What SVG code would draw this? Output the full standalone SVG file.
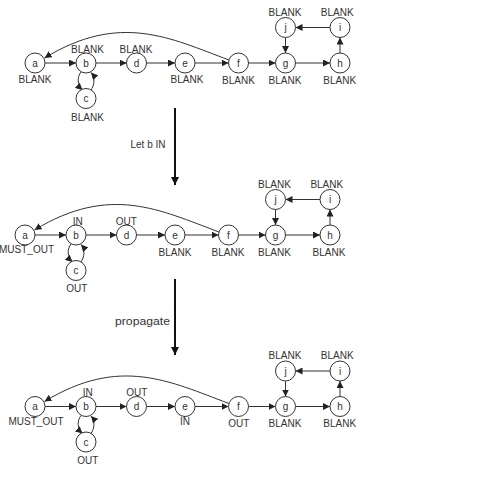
<svg xmlns="http://www.w3.org/2000/svg" width="484" height="490" viewBox="0 0 484 490">
<style>
.n{fill:#fff;stroke:#333;stroke-width:1}
.t{font-family:"Liberation Sans",Arial,sans-serif;font-size:10px;fill:#333;text-anchor:middle}
.e{fill:none;stroke:#333;stroke-width:1}
.big{fill:none;stroke:#111;stroke-width:2}
.cap{font-family:"Liberation Sans",Arial,sans-serif;font-size:10px;fill:#333;text-anchor:end}
</style>
<defs>
<marker id="ah" viewBox="0 0 10 10" refX="10" refY="5" markerWidth="7" markerHeight="7" markerUnits="userSpaceOnUse" orient="auto">
<path d="M0,0 L10,5 L0,10 z" fill="#222"/>
</marker>
<marker id="bh" viewBox="0 0 10 10" refX="10" refY="5" markerWidth="9" markerHeight="8" markerUnits="userSpaceOnUse" orient="auto">
<path d="M0,0 L10,5 L0,10 z" fill="#111"/>
</marker>
</defs>
<rect width="484" height="490" fill="#fff"/>

<!-- Diagram 1 -->
<g id="diagram1">
<g id="d1-edges">
<line class="e" x1="45" y1="63" x2="76" y2="63" marker-end="url(#ah)"/>
<line class="e" x1="96" y1="63" x2="126.5" y2="63" marker-end="url(#ah)"/>
<line class="e" x1="146.5" y1="63" x2="175" y2="63" marker-end="url(#ah)"/>
<line class="e" x1="195" y1="63" x2="228.5" y2="63" marker-end="url(#ah)"/>
<line class="e" x1="248.5" y1="63" x2="275.5" y2="63" marker-end="url(#ah)"/>
<line class="e" x1="295.5" y1="63" x2="330" y2="63" marker-end="url(#ah)"/>
<line class="e" x1="340" y1="53" x2="340" y2="37.5" marker-end="url(#ah)"/>
<line class="e" x1="330" y1="27.5" x2="295.5" y2="27.5" marker-end="url(#ah)"/>
<line class="e" x1="285.5" y1="37.5" x2="285.5" y2="53" marker-end="url(#ah)"/>
<path class="e" d="M81,72 C77,77 77,85 82.5,90" marker-end="url(#ah)"/>
<path class="e" d="M90.5,90.5 C95,85 95,77 91,72.5" marker-end="url(#ah)"/>
<path class="e" d="M229,60 C170,38 120,12 44.5,58" marker-end="url(#ah)"/>
</g>
<g id="d1-a"><circle class="n" cx="35" cy="63" r="10"/><text class="t" x="35" y="66.5">a</text><text class="t" x="35" y="82.5">BLANK</text></g>
<g id="d1-b"><circle class="n" cx="86" cy="63" r="10"/><text class="t" x="86" y="66.5">b</text><text class="t" x="87.5" y="53">BLANK</text></g>
<g id="d1-c"><circle class="n" cx="86" cy="98.5" r="10"/><text class="t" x="86" y="102">c</text><text class="t" x="87.5" y="121">BLANK</text></g>
<g id="d1-d"><circle class="n" cx="136.5" cy="63" r="10"/><text class="t" x="136.5" y="66.5">d</text><text class="t" x="136" y="53">BLANK</text></g>
<g id="d1-e"><circle class="n" cx="185" cy="63" r="10"/><text class="t" x="185" y="66.5">e</text><text class="t" x="187" y="82.5">BLANK</text></g>
<g id="d1-f"><circle class="n" cx="238.5" cy="63" r="10"/><text class="t" x="238.5" y="66.5">f</text><text class="t" x="238.5" y="84">BLANK</text></g>
<g id="d1-g"><circle class="n" cx="285.5" cy="63" r="10"/><text class="t" x="285.5" y="66.5">g</text><text class="t" x="285" y="84">BLANK</text></g>
<g id="d1-h"><circle class="n" cx="340" cy="63" r="10"/><text class="t" x="340" y="66.5">h</text><text class="t" x="339.7" y="84">BLANK</text></g>
<g id="d1-j"><circle class="n" cx="285.5" cy="27.5" r="10"/><text class="t" x="285.5" y="31">j</text><text class="t" x="285" y="16">BLANK</text></g>
<g id="d1-i"><circle class="n" cx="340" cy="27.5" r="10"/><text class="t" x="340" y="31">i</text><text class="t" x="337.2" y="16">BLANK</text></g>
</g>

<!-- Transition arrows -->
<g id="transitions">
<line class="big" x1="175" y1="108" x2="175" y2="185" marker-end="url(#bh)"/>
<text id="label-let-b-in" class="cap" x="165.5" y="147.5">Let b IN</text>
<line class="big" x1="175" y1="279" x2="175" y2="355" marker-end="url(#bh)"/>
<text id="label-propagate" class="cap" x="170" y="324.5" textLength="55" lengthAdjust="spacingAndGlyphs">propagate</text>
</g>

<!-- Diagram 2 -->
<g id="diagram2" transform="translate(-10,172)">
<g id="d2-edges">
<line class="e" x1="45" y1="63" x2="76" y2="63" marker-end="url(#ah)"/>
<line class="e" x1="96" y1="63" x2="126.5" y2="63" marker-end="url(#ah)"/>
<line class="e" x1="146.5" y1="63" x2="175" y2="63" marker-end="url(#ah)"/>
<line class="e" x1="195" y1="63" x2="228.5" y2="63" marker-end="url(#ah)"/>
<line class="e" x1="248.5" y1="63" x2="275.5" y2="63" marker-end="url(#ah)"/>
<line class="e" x1="295.5" y1="63" x2="330" y2="63" marker-end="url(#ah)"/>
<line class="e" x1="340" y1="53" x2="340" y2="37.5" marker-end="url(#ah)"/>
<line class="e" x1="330" y1="27.5" x2="295.5" y2="27.5" marker-end="url(#ah)"/>
<line class="e" x1="285.5" y1="37.5" x2="285.5" y2="53" marker-end="url(#ah)"/>
<path class="e" d="M81,72 C77,77 77,85 82.5,90" marker-end="url(#ah)"/>
<path class="e" d="M90.5,90.5 C95,85 95,77 91,72.5" marker-end="url(#ah)"/>
<path class="e" d="M229,60 C170,38 120,12 44.5,58" marker-end="url(#ah)"/>
</g>
<g id="d2-a"><circle class="n" cx="35" cy="63" r="10"/><text class="t" x="35" y="66.5">a</text><text class="t" x="36.5" y="81">MUST_OUT</text></g>
<g id="d2-b"><circle class="n" cx="86" cy="63" r="10"/><text class="t" x="86" y="66.5">b</text><text class="t" x="87.7" y="52.5">IN</text></g>
<g id="d2-c"><circle class="n" cx="86" cy="98.5" r="10"/><text class="t" x="86" y="102">c</text><text class="t" x="86.7" y="120">OUT</text></g>
<g id="d2-d"><circle class="n" cx="136.5" cy="63" r="10"/><text class="t" x="136.5" y="66.5">d</text><text class="t" x="136.3" y="52.5">OUT</text></g>
<g id="d2-e"><circle class="n" cx="185" cy="63" r="10"/><text class="t" x="185" y="66.5">e</text><text class="t" x="185" y="83.5">BLANK</text></g>
<g id="d2-f"><circle class="n" cx="238.5" cy="63" r="10"/><text class="t" x="238.5" y="66.5">f</text><text class="t" x="238" y="83.5">BLANK</text></g>
<g id="d2-g"><circle class="n" cx="285.5" cy="63" r="10"/><text class="t" x="285.5" y="66.5">g</text><text class="t" x="284.5" y="83.5">BLANK</text></g>
<g id="d2-h"><circle class="n" cx="340" cy="63" r="10"/><text class="t" x="340" y="66.5">h</text><text class="t" x="339" y="83.5">BLANK</text></g>
<g id="d2-j"><circle class="n" cx="285.5" cy="27.5" r="10"/><text class="t" x="285.5" y="31">j</text><text class="t" x="284.5" y="15.5">BLANK</text></g>
<g id="d2-i"><circle class="n" cx="340" cy="27.5" r="10"/><text class="t" x="340" y="31">i</text><text class="t" x="336.8" y="16">BLANK</text></g>
</g>

<!-- Diagram 3 -->
<g id="diagram3" transform="translate(0,343.5)">
<g id="d3-edges">
<line class="e" x1="45" y1="63" x2="76" y2="63" marker-end="url(#ah)"/>
<line class="e" x1="96" y1="63" x2="126.5" y2="63" marker-end="url(#ah)"/>
<line class="e" x1="146.5" y1="63" x2="175" y2="63" marker-end="url(#ah)"/>
<line class="e" x1="195" y1="63" x2="228.5" y2="63" marker-end="url(#ah)"/>
<line class="e" x1="248.5" y1="63" x2="275.5" y2="63" marker-end="url(#ah)"/>
<line class="e" x1="295.5" y1="63" x2="330" y2="63" marker-end="url(#ah)"/>
<line class="e" x1="340" y1="53" x2="340" y2="37.5" marker-end="url(#ah)"/>
<line class="e" x1="330" y1="27.5" x2="295.5" y2="27.5" marker-end="url(#ah)"/>
<line class="e" x1="285.5" y1="37.5" x2="285.5" y2="53" marker-end="url(#ah)"/>
<path class="e" d="M81,72 C77,77 77,85 82.5,90" marker-end="url(#ah)"/>
<path class="e" d="M90.5,90.5 C95,85 95,77 91,72.5" marker-end="url(#ah)"/>
<path class="e" d="M229,60 C170,38 120,12 44.5,58" marker-end="url(#ah)"/>
</g>
<g id="d3-a"><circle class="n" cx="35" cy="63" r="10"/><text class="t" x="35" y="66.5">a</text><text class="t" x="36" y="81">MUST_OUT</text></g>
<g id="d3-b"><circle class="n" cx="86" cy="63" r="10"/><text class="t" x="86" y="66.5">b</text><text class="t" x="87.7" y="52.2">IN</text></g>
<g id="d3-c"><circle class="n" cx="86" cy="98.5" r="10"/><text class="t" x="86" y="102">c</text><text class="t" x="87.7" y="120">OUT</text></g>
<g id="d3-d"><circle class="n" cx="136.5" cy="63" r="10"/><text class="t" x="136.5" y="66.5">d</text><text class="t" x="136.7" y="52.2">OUT</text></g>
<g id="d3-e"><circle class="n" cx="185" cy="63" r="10"/><text class="t" x="185" y="66.5">e</text><text class="t" x="185" y="81">IN</text></g>
<g id="d3-f"><circle class="n" cx="238.5" cy="63" r="10"/><text class="t" x="238.5" y="66.5">f</text><text class="t" x="238.8" y="83.5">OUT</text></g>
<g id="d3-g"><circle class="n" cx="285.5" cy="63" r="10"/><text class="t" x="285.5" y="66.5">g</text><text class="t" x="285" y="83.5">BLANK</text></g>
<g id="d3-h"><circle class="n" cx="340" cy="63" r="10"/><text class="t" x="340" y="66.5">h</text><text class="t" x="339.7" y="83.5">BLANK</text></g>
<g id="d3-j"><circle class="n" cx="285.5" cy="27.5" r="10"/><text class="t" x="285.5" y="31">j</text><text class="t" x="285" y="15.5">BLANK</text></g>
<g id="d3-i"><circle class="n" cx="340" cy="27.5" r="10"/><text class="t" x="340" y="31">i</text><text class="t" x="337.2" y="15.5">BLANK</text></g>
</g>
</svg>
